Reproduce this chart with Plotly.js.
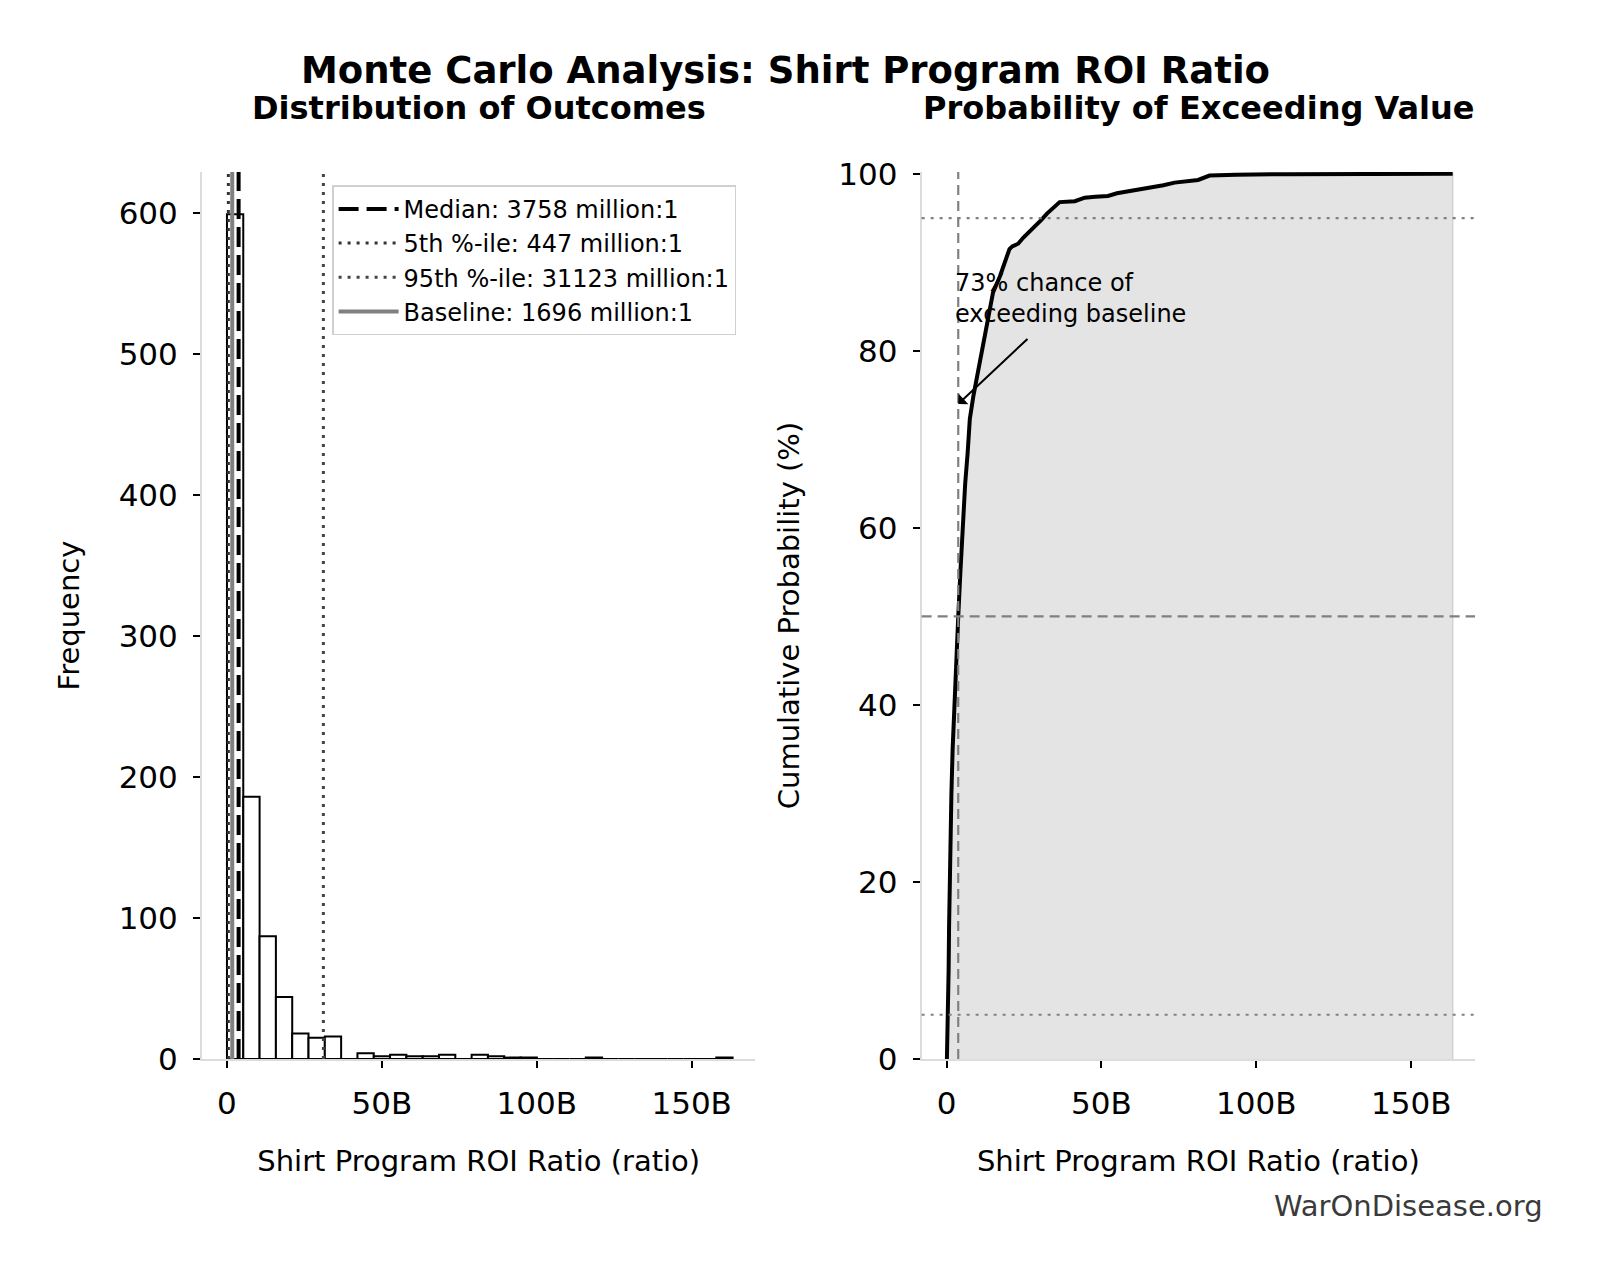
<!DOCTYPE html>
<html>
<head>
<meta charset="utf-8">
<script src="https://cdn.plot.ly/plotly-3.0.1.min.js"></script>
<style>html,body{margin:0;padding:0;background:#fff;}#chart{width:1601px;height:1280px;}</style>
</head>
<body>
<div id="chart"></div>
<script>
// ---- Data (ratio values in billions; stats in millions) ----
const binCenters = [2.63, 7.90, 13.16, 18.43, 23.69, 28.96, 34.22, 39.49, 44.75, 50.02, 55.28, 60.55, 65.81, 71.08, 76.34, 81.61, 86.87, 92.14, 97.40, 102.67, 107.93, 113.20, 118.46, 123.73, 128.99, 134.26, 139.52, 144.79, 150.05, 155.32, 160.58];
const binCounts  = [599, 186, 87, 44, 18, 15, 16, 0, 4, 2, 3, 2, 2, 3, 0, 3, 2, 1, 1, 0, 0, 0, 1, 0, 0, 0, 0, 0, 0, 0, 1];
const binWidth = 5.265;

const cdfX = [0.10, 0.45, 0.65, 0.80, 0.95, 1.20, 1.55, 1.95, 2.45, 3.05, 3.76, 4.45, 5.20, 6.00, 6.80, 7.50, 8.60, 9.70, 11.0, 12.4, 13.7, 15.0, 17.2, 18.8, 20.3, 21.2, 23.1, 24.8, 26.3, 28.5, 30.6, 32.4, 33.9, 35.5, 36.5, 41.4, 43.0, 44.6, 48.0, 52.1, 55.0, 58.6, 62.0, 65.6, 70.0, 73.6, 78.5, 81.2, 84.9, 93.5, 110.0, 163.4];
const cdfY = [0, 5, 10, 15, 20, 25, 30, 35, 40, 45, 50, 55, 60, 65, 68.5, 72.3, 74.8, 76.8, 79.5, 82.0, 84.4, 86.6, 88.4, 89.9, 91.5, 91.8, 92.1, 92.8, 93.3, 94.1, 94.8, 95.5, 96.0, 96.6, 96.8, 96.9, 97.1, 97.3, 97.4, 97.5, 97.8, 98.0, 98.2, 98.4, 98.7, 99.0, 99.2, 99.3, 99.8, 99.9, 99.95, 100];

const statNames = ['Median', '5th %-ile', '95th %-ile', 'Baseline'];
const statMillions = [3758, 447, 31123, 1696];
const refPercents = [5, 50, 95];
const exceedPct = 73;

const xTickVals = [0, 50, 100, 150];
const xTickText = ['0', '50B', '100B', '150B'];
const leftYTicks = [0, 100, 200, 300, 400, 500, 600];
const rightYTicks = [0, 20, 40, 60, 80, 100];

// ---- Styling ----
const FONT = 'DejaVu Sans, Liberation Sans, sans-serif';
const leftYMax = 629;
const statStyles = [
  {color: '#000000', width: 4, dash: '20px,8px'},
  {color: '#333333', width: 3, dash: '3px,6px'},
  {color: '#444444', width: 3, dash: '3px,6px'},
  {color: '#808080', width: 4, dash: 'solid'}
];

const traces = [];
traces.push({
  type: 'bar', x: binCenters, y: binCounts, width: binWidth,
  marker: {color: '#ffffff', line: {color: '#000000', width: 2}},
  xaxis: 'x', yaxis: 'y', showlegend: false, hoverinfo: 'x+y'
});
for (let i = 0; i < statNames.length; i++) {
  const v = statMillions[i] / 1000;
  traces.push({
    type: 'scatter', mode: 'lines', x: [v, v], y: [0, leftYMax],
    name: statNames[i] + ': ' + statMillions[i] + ' million:1',
    line: statStyles[i], xaxis: 'x', yaxis: 'y'
  });
}
const lastX = cdfX[cdfX.length - 1];
traces.push({
  type: 'scatter', mode: 'lines', x: cdfX.concat([lastX]), y: cdfY.concat([0]), fill: 'tozeroy',
  fillcolor: '#e4e4e4', line: {width: 1.5, color: '#d2d2d2'},
  xaxis: 'x2', yaxis: 'y2', showlegend: false, hoverinfo: 'skip'
});
traces.push({
  type: 'scatter', mode: 'lines', x: cdfX, y: cdfY,
  line: {color: '#000000', width: 4},
  xaxis: 'x2', yaxis: 'y2', showlegend: false
});

const shapes = [];
const refDash = ['3px,6px', '10px,6px', '3px,6px'];
refPercents.forEach((p, i) => {
  shapes.push({type: 'line', xref: 'x2 domain', yref: 'y2', x0: 0, x1: 1, y0: p, y1: p,
    line: {color: '#808080', width: 2.2, dash: refDash[i]}, layer: 'above'});
});
const medB = statMillions[0] / 1000;
shapes.push({type: 'line', xref: 'x2', yref: 'y2 domain', x0: medB, x1: medB, y0: 0, y1: 1,
  line: {color: '#808080', width: 2.2, dash: '10px,6px'}, layer: 'above'});

const axisCommon = {
  showgrid: false, zeroline: false, showline: true, linecolor: '#dcdcdc', linewidth: 2,
  ticks: 'outside', ticklen: 7, tickwidth: 2, tickcolor: '#000000',
  tickfont: {family: FONT, size: 31, color: '#000'}, ticklabelstandoff: 9
};
const L = 201.5, R = 125.5, T = 171.7, B = 221.3;
const PW = 1601 - L - R, PH = 1280 - T - B;
function px(X) { return (X - L) / PW; }
function py(Y) { return (1280 - B - Y) / PH; }

const layout = {
  width: 1601, height: 1280,
  margin: {l: L, r: R, t: T, b: B, pad: 0},
  paper_bgcolor: '#ffffff', plot_bgcolor: 'rgba(0,0,0,0)',
  font: {family: FONT, color: '#000'},
  title: {text: 'Monte Carlo Analysis: Shirt Program ROI Ratio', xref: 'container', yref: 'container',
    x: 785.5 / 1601, y: 1 - 70 / 1280, xanchor: 'center', yanchor: 'middle',
    font: {family: FONT, size: 37, weight: 'bold', color: '#000'}},
  xaxis: Object.assign({}, axisCommon, {domain: [0, 553.9 / PW], range: [-8.06, 170.6], anchor: 'y',
    tickvals: xTickVals, ticktext: xTickText,
    title: {text: 'Shirt Program ROI Ratio (ratio)', font: {family: FONT, size: 29}, standoff: 30}}),
  yaxis: Object.assign({}, axisCommon, {domain: [0, 1], range: [0, leftYMax], anchor: 'x',
    tickvals: leftYTicks,
    title: {text: 'Frequency', font: {family: FONT, size: 29}, standoff: 30}}),
  xaxis2: Object.assign({}, axisCommon, {domain: [px(921.7), 1], range: [-8.06, 170.6], anchor: 'y2',
    tickvals: xTickVals, ticktext: xTickText,
    title: {text: 'Shirt Program ROI Ratio (ratio)', font: {family: FONT, size: 29}, standoff: 30}}),
  yaxis2: Object.assign({}, axisCommon, {domain: [0, 1], range: [0, 100.2], anchor: 'x2',
    tickvals: rightYTicks,
    title: {text: 'Cumulative Probability (%)', font: {family: FONT, size: 29}, standoff: 30}}),
  showlegend: true,
  legend: {x: px(331.7), y: py(185), xanchor: 'left', yanchor: 'top',
    bgcolor: '#ffffff', bordercolor: '#d0d0d0', borderwidth: 1.5,
    font: {family: FONT, size: 24, color: '#000'}, itemwidth: 60, tracegroupgap: 0},
  shapes: shapes,
  annotations: [
    {text: 'Distribution of Outcomes', xref: 'paper', yref: 'paper', x: px(479), y: py(108),
      xanchor: 'center', yanchor: 'middle', showarrow: false,
      font: {family: FONT, size: 32, weight: 'bold', color: '#000'}},
    {text: 'Probability of Exceeding Value', xref: 'paper', yref: 'paper', x: px(1199), y: py(108),
      xanchor: 'center', yanchor: 'middle', showarrow: false,
      font: {family: FONT, size: 32, weight: 'bold', color: '#000'}},
    {text: exceedPct + '% chance of<br>exceeding baseline', xref: 'x2', yref: 'y2', x: 2.2, y: 85.9,
      xanchor: 'left', yanchor: 'middle', align: 'left', showarrow: false,
      font: {family: FONT, size: 24, color: '#000'}},
    {text: '', xref: 'x2', yref: 'y2', x: medB, y: 74, axref: 'x2', ayref: 'y2', ax: 26.6, ay: 81.5,
      showarrow: true, arrowhead: 1, arrowsize: 1.2, arrowwidth: 2, arrowcolor: '#000'},
    {text: 'WarOnDisease.org', xref: 'paper', yref: 'paper', x: px(1546), y: py(1206),
      xanchor: 'right', yanchor: 'middle', showarrow: false,
      font: {family: FONT, size: 29, color: '#3a3a3a'}}
  ]
};

Plotly.newPlot('chart', traces, layout, {displayModeBar: false, staticPlot: true});
</script>
</body>
</html>
